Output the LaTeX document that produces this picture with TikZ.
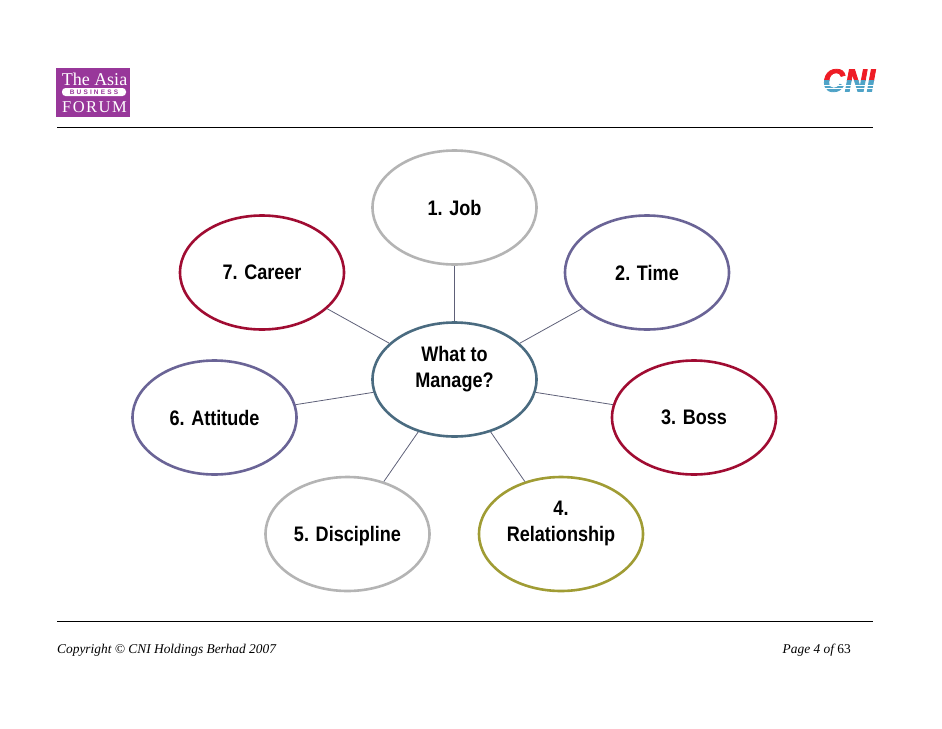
\documentclass[tikz,border=0pt]{standalone}
\usepackage{fontspec}
\setmainfont{Liberation Serif}
\setsansfont{Liberation Sans}
\newfontfamily\labfont[FakeStretch=0.86]{Liberation Sans}
\newfontfamily\cnifont[FakeStretch=0.95,FakeBold=2.5]{Liberation Sans}
\usetikzlibrary{shapes.geometric}
\definecolor{hubColor}{HTML}{4A6B80}
\definecolor{greyColor}{HTML}{B4B4B4}
\definecolor{redColor}{HTML}{A00C32}
\definecolor{slateColor}{HTML}{6A6496}
\definecolor{oliveColor}{HTML}{A09C34}
\definecolor{spokeColor}{HTML}{5E6078}
\definecolor{forumColor}{HTML}{98379A}
\definecolor{cniRed}{HTML}{EE1C25}
\definecolor{cniBlue}{HTML}{4FA3C7}
\tikzset{
	bubble/.style={draw=#1, ellipse, line width=2.6pt, fill=white, inner sep=0,
		minimum width=164pt, minimum height=114pt, align=center,
		font=\labfont\bfseries\fontsize{21}{26}\selectfont},
	spoke/.style={draw=spokeColor, line width=0.8pt},
	rule/.style={draw=black, line width=0.9pt},
	foot/.style={inner sep=0, font=\itshape\fontsize{13.4}{15}\selectfont},
	logotext/.style={text=white, inner sep=0, font=\fontsize{18}{18}\selectfont},
	cnitext/.style={inner sep=0, font=\cnifont\bfseries\itshape\fontsize{32}{32}\selectfont}
}
\begin{document}
\begin{tikzpicture}[x=1pt,y=-1pt]
	\useasboundingbox (0,0) rectangle (942,728);

	% header and footer
	\coordinate (ruleA) at (57,127.5);
	\coordinate (ruleB) at (873,127.5);
	\coordinate (ruleC) at (57,621.5);
	\coordinate (ruleD) at (873,621.5);
	\draw[rule] (ruleA) -- (ruleB);
	\draw[rule] (ruleC) -- (ruleD);
	\node[foot, anchor=west] (copy) at (57,650.5) {Copyright \textcopyright\ CNI Holdings Berhad 2007};
	\node[foot, anchor=east] (page) at (851,650.5) {Page 4 of {\upshape 63}};

	% logos
	\node[fill=forumColor, minimum width=74pt, minimum height=49pt, inner sep=0] (forum) at (93,92.5) {};
	\node[logotext] (asia) at (94.5,79) {The Asia};
	\node[fill=white, rounded corners=3.5pt, minimum width=64pt, minimum height=8pt, inner sep=0,
		font=\sffamily\bfseries\fontsize{6.5}{7}\selectfont, text=forumColor] (business) at (94,92) {B\,\,U\,\,S\,\,I\,\,N\,\,E\,\,S\,\,S};
	\node[logotext, font=\fontsize{16.5}{18}\selectfont] (frm) at (94.5,107.5) {F\kern1.5ptO\kern1.5ptR\kern1.5ptU\kern1.5ptM};

	\begin{scope}
		\clip (815,60) rectangle (885,80.5);
		\node[cnitext, text=cniRed] (cniA) at (849,80.5) {CNI};
	\end{scope}
	\begin{scope}
		\clip (815,80.5) rectangle (885,100);
		\node[cnitext, text=cniBlue] (cniB) at (849,80.5) {CNI};
		\fill[white] (815,84.5) rectangle (885,85.5);
		\fill[white] (815,88) rectangle (885,89);
	\end{scope}

	% the bubbles
	\node[bubble=hubColor] (hub) at (454.5,379.5) {What to\\Manage?\\~};
	\node[bubble=greyColor] (job) at (454.5,207.5) {1. Job};
	\node[bubble=slateColor] (time) at (647,272.5) {2. Time};
	\node[bubble=redColor] (boss) at (694,417.5) {3. Boss};
	\node[bubble=oliveColor] (rel) at (561,534) {4.\\Relationship\\~};
	\node[bubble=greyColor] (disc) at (347.5,534) {\raisebox{0pt}[\height][0pt]{5. Discipline}};
	\node[bubble=slateColor] (att) at (214.5,417.5) {6. Attitude};
	\node[bubble=redColor] (car) at (262,272.5) {7. Career};

	\foreach \x in {job,time,boss,rel,disc,att,car}
		\path[spoke] (hub) -- (\x);
\end{tikzpicture}
\end{document}
